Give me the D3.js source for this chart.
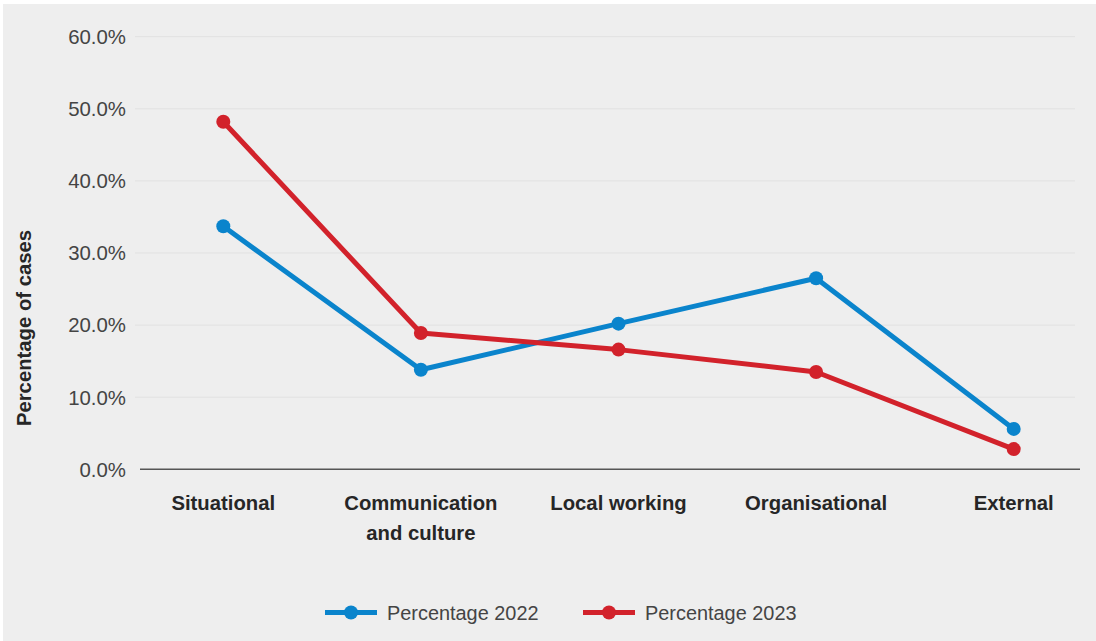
<!DOCTYPE html>
<html>
<head>
<meta charset="utf-8">
<script src="https://cdn.jsdelivr.net/npm/d3@7"></script>
<style>
html,body{margin:0;padding:0;background:#fff;}
svg{display:block;font-family:"Liberation Sans",Arial,Helvetica,sans-serif;}
</style>
</head>
<body>
<svg id="chart" width="1096" height="641"></svg>
<script>
const categories = ["Situational", "Communication and culture", "Local working", "Organisational", "External"];
const categoryLines = [["Situational"], ["Communication", "and culture"], ["Local working"], ["Organisational"], ["External"]];
const values2022 = [33.7, 13.8, 20.2, 26.5, 5.6];
const values2023 = [48.2, 18.9, 16.6, 13.5, 2.8];
const seriesNames = ["Percentage 2022", "Percentage 2023"];
const seriesColors = ["#0a84cc", "#d2222b"];
const yTicks = [0, 10, 20, 30, 40, 50, 60];
const yTitle = "Percentage of cases";

const svg = d3.select("#chart");
svg.append("rect").attr("x", 3).attr("y", 4).attr("width", 1093).attr("height", 637).attr("fill", "#eeeeee");

const x = d3.scaleBand().domain(categories).range([124.5, 1112.5]);
const y = d3.scaleLinear().domain([0, 60]).range([469.3, 36.7]);

// gridlines
svg.append("g").selectAll("line").data(yTicks.filter(t => t > 0)).join("line")
  .attr("x1", 135).attr("x2", 1075)
  .attr("y1", d => y(d)).attr("y2", d => y(d))
  .attr("stroke", "#e1e1e1").attr("stroke-width", 1);

// y tick labels
svg.append("g").selectAll("text").data(yTicks).join("text")
  .attr("x", 126).attr("y", d => y(d)).attr("dy", "0.36em")
  .attr("text-anchor", "end")
  .attr("font-size", 20.4).attr("fill", "#444")
  .text(d => d.toFixed(1) + "%");

// x axis line
svg.append("line").attr("x1", 140).attr("x2", 1080).attr("y1", y(0)).attr("y2", y(0))
  .attr("stroke", "#555").attr("stroke-width", 1.5);

// category labels
const cx = c => x(c) + x.bandwidth() / 2;
categories.forEach((c, i) => {
  const t = svg.append("text").attr("text-anchor", "middle")
    .attr("font-size", 20.3).attr("font-weight", "bold").attr("fill", "#262626");
  categoryLines[i].forEach((ln, j) => {
    t.append("tspan").attr("x", cx(c)).attr("y", 509.5 + j * 30).text(ln);
  });
});

// y title
svg.append("text")
  .attr("transform", "translate(31,328) rotate(-90)")
  .attr("text-anchor", "middle").attr("font-size", 20.3).attr("font-weight", "bold").attr("fill", "#262626")
  .text(yTitle);

// series
const seriesData = [values2022, values2023];
const line = d3.line().x((d, i) => cx(categories[i])).y(d => y(d));
seriesData.forEach((vals, s) => {
  svg.append("path").datum(vals).attr("d", line)
    .attr("fill", "none").attr("stroke", seriesColors[s]).attr("stroke-width", 5)
    .attr("stroke-linejoin", "round");
  svg.append("g").selectAll("circle").data(vals).join("circle")
    .attr("cx", (d, i) => cx(categories[i])).attr("cy", d => y(d)).attr("r", 7)
    .attr("fill", seriesColors[s]);
});

// legend
const legendX = [325, 583];
seriesNames.forEach((n, s) => {
  const g = svg.append("g").attr("transform", `translate(${legendX[s]},612.5)`);
  g.append("line").attr("x1", 0).attr("x2", 52).attr("y1", 0).attr("y2", 0)
    .attr("stroke", seriesColors[s]).attr("stroke-width", 5);
  g.append("circle").attr("cx", 26).attr("cy", 0).attr("r", 7).attr("fill", seriesColors[s]);
  g.append("text").attr("x", 62).attr("y", 7.5).attr("font-size", 19.9).attr("fill", "#444").text(n);
});
</script>
</body>
</html>
